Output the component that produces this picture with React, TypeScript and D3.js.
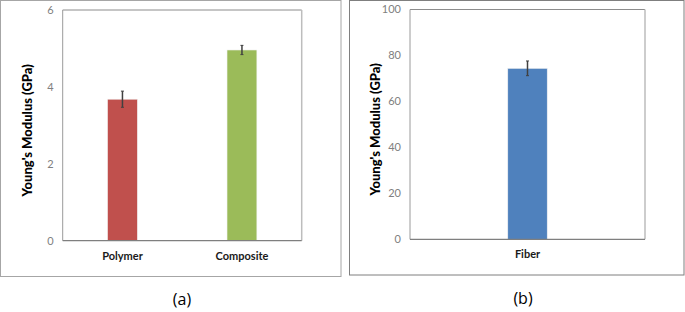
import React from "react";
import * as d3 from "d3";

const categoriesA = ["Polymer", "Composite"];
const valuesA = [3.68, 4.96];
const errorsA = [0.21, 0.12];
const ticksA = [0, 2, 4, 6];

const categoriesB = ["Fiber"];
const valuesB = [74.4];
const errorsB = [3.2];
const ticksB = [0, 20, 40, 60, 80, 100];

const colorsA = ["#C0504D", "#9BBB59"];
const colorsB = ["#4F81BD"];

const FONT = "Lato, 'Open Sans', 'Liberation Sans', sans-serif";

type PanelProps = {
  frame: [number, number, number, number];
  frameColor: string;
  plot: [number, number, number, number]; // x0, x1, y0(top), y1(bottom)
  cats: string[];
  vals: number[];
  errs: number[];
  ticks: number[];
  max: number;
  colors: string[];
  barFrac: number;
  titleX: number;
  catY: number;
  label: string;
  labelX: number;
  labelY: number;
};

function Panel(p: PanelProps) {
  const [x0, x1, yt, yb] = p.plot;
  const x = d3.scaleBand<string>().domain(p.cats).range([x0, x1]).padding(0);
  const y = d3.scaleLinear().domain([0, p.max]).range([yb, yt]);
  const bw = x.bandwidth() * p.barFrac;
  const [fx0, fy0, fx1, fy1] = p.frame;
  return (
    <g>
      <rect x={fx0} y={fy0} width={fx1 - fx0} height={fy1 - fy0} fill="white" stroke={p.frameColor} strokeWidth={1} />
      <line x1={x0} x2={x1} y1={yt} y2={yt} stroke="#8c8c8c" strokeWidth={1} />
      <line x1={x0} x2={x0} y1={yt} y2={yb} stroke="#9a9a9a" strokeWidth={1} />
      <line x1={x1} x2={x1} y1={yt} y2={yb} stroke="#bdbdbd" strokeWidth={1.5} />
      {p.ticks.map((t) => (
        <text key={t} x={x0 - 9} y={y(t)} dy="0.35em" textAnchor="end" fontSize={11} fill="#808080" fontFamily={FONT}>
          {t}
        </text>
      ))}
      {p.cats.map((c, i) => {
        const cx = (x(c) as number) + x.bandwidth() / 2;
        const v = p.vals[i];
        const e = p.errs[i];
        return (
          <g key={c}>
            <rect x={cx - bw / 2} y={y(v)} width={bw} height={y(0) - y(v)} fill={p.colors[i]} stroke="#f2f2f2" strokeWidth={0.6} />
            <line x1={cx} x2={cx} y1={y(v + e)} y2={y(v - e)} stroke="#404040" strokeWidth={1.5} />
            <line x1={cx - 1.5} x2={cx + 1.5} y1={y(v + e)} y2={y(v + e)} stroke="#404040" strokeWidth={1} />
            <line x1={cx - 1.5} x2={cx + 1.5} y1={y(v - e)} y2={y(v - e)} stroke="#404040" strokeWidth={1} />
            <text x={cx} y={p.catY} dy="0.35em" textAnchor="middle" fontSize={11} fontWeight="bold" fill="#1a1a1a" fontFamily={FONT}>
              {c}
            </text>
          </g>
        );
      })}
      <line x1={x0} x2={x1} y1={yb} y2={yb} stroke="#7f7f7f" strokeWidth={1.2} />
      <text
        transform={`translate(${p.titleX},${(yt + yb) / 2 + 5}) rotate(-90)`}
        textAnchor="middle"
        dy="0.35em"
        fontSize={13}
        fontWeight={900}
        fill="#000"
        fontFamily={FONT}
      >
        Young's Modulus (GPa)
      </text>
      <text x={p.labelX} y={p.labelY} dy="0.35em" textAnchor="middle" fontSize={16} fill="#000" fontFamily="'Open Sans', 'Liberation Sans', sans-serif">
        {p.label}
      </text>
    </g>
  );
}

export default function App() {
  return (
    <svg width={685} height={312} style={{ position: "absolute", left: 0, top: 0, background: "white" }}>
      <Panel
        frame={[0.5, 0.5, 341, 276.5]}
        frameColor="#a6a6a6"
        plot={[62.7, 301.7, 10, 240.7]}
        cats={categoriesA}
        vals={valuesA}
        errs={errorsA}
        ticks={ticksA}
        max={6}
        colors={colorsA}
        barFrac={0.25}
        titleX={27}
        catY={256}
        label="(a)"
        labelX={182}
        labelY={299}
      />
      <Panel
        frame={[349.5, 0.5, 684, 275]}
        frameColor="#7f7f7f"
        plot={[410, 645, 9.5, 239.3]}
        cats={categoriesB}
        vals={valuesB}
        errs={errorsB}
        ticks={ticksB}
        max={100}
        colors={colorsB}
        barFrac={0.168}
        titleX={375}
        catY={254}
        label="(b)"
        labelX={523}
        labelY={298}
      />
    </svg>
  );
}
